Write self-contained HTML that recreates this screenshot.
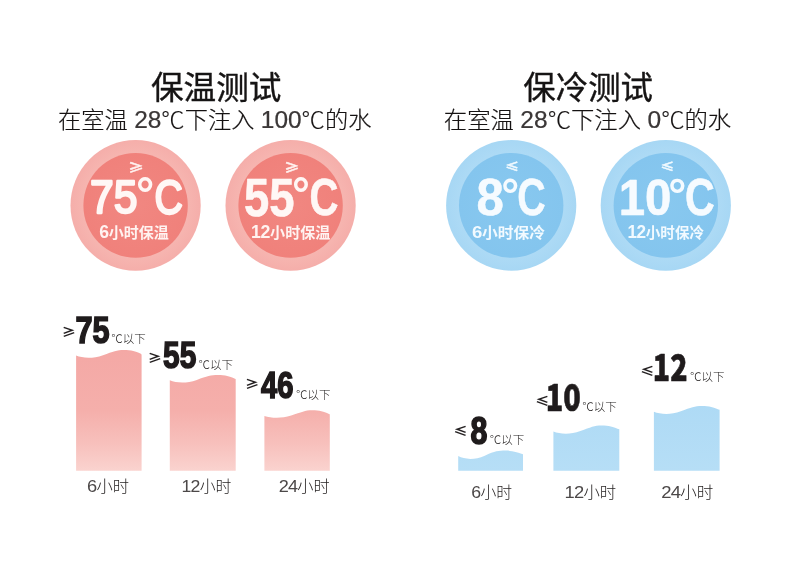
<!DOCTYPE html>
<html lang="zh-CN"><head><meta charset="utf-8"><title>保温测试 保冷测试</title>
<style>html,body{margin:0;padding:0;background:#fff}body{width:790px;height:569px;overflow:hidden}svg{display:block}text{white-space:pre}</style>
</head><body>
<svg width="790" height="569" viewBox="0 0 790 569">
<rect width="790" height="569" fill="#ffffff"/>
<defs>
<linearGradient id="pg" x1="0" y1="350" x2="0" y2="471" gradientUnits="userSpaceOnUse"><stop offset="0" stop-color="#f4a8a5"/><stop offset="0.5" stop-color="#f5afab"/><stop offset="0.76" stop-color="#f7bfbb"/><stop offset="1" stop-color="#fad3cf"/></linearGradient>
<linearGradient id="bg" x1="0" y1="405" x2="0" y2="471" gradientUnits="userSpaceOnUse"><stop offset="0" stop-color="#aedaf5"/><stop offset="1" stop-color="#b6def6"/></linearGradient>
<radialGradient id="pr" cx="0.5" cy="0.5" r="0.5"><stop offset="0.8" stop-color="#f6b5b0"/><stop offset="1" stop-color="#f5aeaa"/></radialGradient>
<radialGradient id="br" cx="0.5" cy="0.5" r="0.5"><stop offset="0.8" stop-color="#addaf5"/><stop offset="1" stop-color="#a7d7f4"/></radialGradient>
<radialGradient id="pc" cx="0.5" cy="0.5" r="0.5"><stop offset="0" stop-color="#f18781"/><stop offset="1" stop-color="#f0817b"/></radialGradient>
<radialGradient id="bc" cx="0.5" cy="0.5" r="0.5"><stop offset="0" stop-color="#88c8ef"/><stop offset="1" stop-color="#84c5ee"/></radialGradient>
</defs>
<ellipse cx="135.6" cy="205.4" rx="65.1" ry="65.3" fill="url(#pr)"/><ellipse cx="135.6" cy="205.4" rx="52.2" ry="52.4" fill="url(#pc)"/>
<ellipse cx="290.6" cy="205.4" rx="65.1" ry="65.3" fill="url(#pr)"/><ellipse cx="290.6" cy="205.4" rx="52.2" ry="52.4" fill="url(#pc)"/>
<ellipse cx="511.2" cy="205.4" rx="65.1" ry="65.3" fill="url(#br)"/><ellipse cx="511.2" cy="205.4" rx="52.2" ry="52.4" fill="url(#bc)"/>
<ellipse cx="665.8" cy="205.4" rx="65.1" ry="65.3" fill="url(#br)"/><ellipse cx="665.8" cy="205.4" rx="52.2" ry="52.4" fill="url(#bc)"/>
<path d="M76.1 355.6 C82.6 358.2 92.5 359.0 103.0 355.2 S116.7 350.0 123.9 350.0 S136.4 351.6 139.3 353.0 S141.6 354.4 141.6 356.4 L141.6 470.7 L76.1 470.7Z" fill="url(#pg)"/>
<path d="M169.8 380.3 C176.4 383.0 186.3 383.8 196.8 379.9 S210.7 375.0 217.9 375.0 S230.4 376.6 233.4 378.0 S235.7 378.6 235.7 380.6 L235.7 470.7 L169.8 470.7Z" fill="url(#pg)"/>
<path d="M264.4 415.9 C270.9 417.9 280.8 418.7 291.2 415.5 S304.9 410.3 312.1 410.3 S324.6 411.9 327.5 413.3 S329.8 413.9 329.8 415.9 L329.8 470.7 L264.4 470.7Z" fill="url(#pg)"/>
<path d="M458.2 456.1 C464.7 459.5 474.4 460.3 484.8 455.7 S498.4 450.6 505.5 450.6 S517.8 452.2 520.7 453.6 S523.0 453.3 523.0 455.3 L523.0 470.7 L458.2 470.7Z" fill="url(#bg)"/>
<path d="M553.4 431.5 C560.0 434.0 569.9 434.8 580.4 431.1 S594.3 425.6 601.5 425.6 S614.0 427.2 617.0 428.6 S619.3 428.4 619.3 430.4 L619.3 470.7 L553.4 470.7Z" fill="url(#bg)"/>
<path d="M653.9 411.7 C660.5 414.3 670.3 415.1 680.8 411.3 S694.6 406.1 701.9 406.1 S714.3 407.7 717.3 409.1 S719.6 408.9 719.6 410.9 L719.6 470.7 L653.9 470.7Z" fill="url(#bg)"/>
<text transform="translate(150.95 98.87) scale(1.0355 1)" font-size="31.49" font-family='"Liberation Sans","Noto Sans CJK SC",sans-serif' font-weight="400" fill="#161414" stroke="#161414" stroke-width="0.38" stroke-linejoin="round">保温测试</text>
<text transform="translate(523.35 98.87) scale(1.0291 1)" font-size="31.49" font-family='"Liberation Sans","Noto Sans CJK SC",sans-serif' font-weight="400" fill="#161414" stroke="#161414" stroke-width="0.38" stroke-linejoin="round">保冷测试</text>
<text transform="translate(57.94 127.81) scale(1.0404 1)" font-size="22.37" font-family='"Liberation Sans","Noto Sans CJK SC",sans-serif' font-weight="300" fill="#151212" stroke="#151212" stroke-width="0.18" stroke-linejoin="round">在室温 <tspan font-size="1.05em" letter-spacing="0" fill="#3c3838">28</tspan>℃下注入 <tspan font-size="1.05em" letter-spacing="0" fill="#3c3838">100</tspan>℃的水</text>
<text transform="translate(443.83 127.81) scale(1.0438 1)" font-size="22.37" font-family='"Liberation Sans","Noto Sans CJK SC",sans-serif' font-weight="300" fill="#151212" stroke="#151212" stroke-width="0.18" stroke-linejoin="round">在室温 <tspan font-size="1.05em" letter-spacing="0" fill="#3c3838">28</tspan>℃下注入 <tspan font-size="1.05em" letter-spacing="0" fill="#3c3838">0</tspan>℃的水</text>
<text transform="translate(90.12 212.91) scale(0.9190 1)" font-size="46.40" font-family='"Liberation Sans",sans-serif' font-weight="400" fill="#fff7f5" stroke="#fff7f5" stroke-width="2.32" stroke-linejoin="round">75</text>
<text transform="translate(135.88 211.39) scale(0.9622 1)" font-size="47.42" font-family='"Liberation Sans",sans-serif' font-weight="700" fill="#fff7f5">°</text>
<text transform="translate(154.62 213.95) scale(0.8135 1)" font-size="48.27" font-family='"Liberation Sans",sans-serif' font-weight="400" fill="#fff7f5" stroke="#fff7f5" stroke-width="2.41" stroke-linejoin="round">C</text>
<text transform="translate(243.94 215.67) scale(0.8608 1)" font-size="52.71" font-family='"Liberation Sans",sans-serif' font-weight="700" fill="#fff7f5" stroke="#fff7f5" stroke-width="0.63" stroke-linejoin="round">55</text>
<text transform="translate(292.11 211.39) scale(0.9424 1)" font-size="47.42" font-family='"Liberation Sans",sans-serif' font-weight="700" fill="#fff7f5">°</text>
<text transform="translate(309.39 215.08) scale(0.7789 1)" font-size="51.55" font-family='"Liberation Sans",sans-serif' font-weight="700" fill="#fff7f5" stroke="#fff7f5" stroke-width="0.62" stroke-linejoin="round">C</text>
<text transform="translate(476.62 214.68) scale(0.9544 1)" font-size="51.55" font-family='"Liberation Sans",sans-serif' font-weight="700" fill="#f6fbff" stroke="#f6fbff" stroke-width="0.52" stroke-linejoin="round">8</text>
<text transform="translate(501.20 211.37) scale(0.9555 1)" font-size="47.10" font-family='"Liberation Sans",sans-serif' font-weight="700" fill="#f6fbff">°</text>
<text transform="translate(517.32 215.29) scale(0.7684 1)" font-size="51.27" font-family='"Liberation Sans",sans-serif' font-weight="700" fill="#f6fbff" stroke="#f6fbff" stroke-width="0.51" stroke-linejoin="round">C</text>
<text transform="translate(618.65 214.50) scale(0.9517 1)" font-size="49.86" font-family='"Liberation Sans",sans-serif' font-weight="700" fill="#f6fbff" stroke="#f6fbff" stroke-width="0.60" stroke-linejoin="round">10</text>
<text transform="translate(668.29 210.77) scale(0.9621 1)" font-size="47.10" font-family='"Liberation Sans",sans-serif' font-weight="700" fill="#f6fbff">°</text>
<text transform="translate(684.95 215.29) scale(0.8017 1)" font-size="51.41" font-family='"Liberation Sans",sans-serif' font-weight="700" fill="#f6fbff" stroke="#f6fbff" stroke-width="0.62" stroke-linejoin="round">C</text>
<text transform="translate(99.20 238.26) scale(1.0071 1)" font-size="14.89" font-family='"Liberation Sans","Noto Sans CJK SC",sans-serif' font-weight="700" fill="#fff3f1"><tspan font-size="1.18em" letter-spacing="-0.02em">6</tspan>小时保温</text>
<text transform="translate(251.05 238.26) scale(1.0117 1)" font-size="14.89" font-family='"Liberation Sans","Noto Sans CJK SC",sans-serif' font-weight="700" fill="#fff3f1"><tspan font-size="1.18em" letter-spacing="-0.02em">12</tspan>小时保温</text>
<text transform="translate(471.97 238.27) scale(1.0685 1)" font-size="14.74" font-family='"Liberation Sans","Noto Sans CJK SC",sans-serif' font-weight="700" fill="#f2faff"><tspan font-size="1.18em" letter-spacing="-0.02em">6</tspan>小时保冷</text>
<text transform="translate(627.38 238.26) scale(0.9779 1)" font-size="14.89" font-family='"Liberation Sans","Noto Sans CJK SC",sans-serif' font-weight="700" fill="#f2faff"><tspan font-size="1.18em" letter-spacing="-0.02em">12</tspan>小时保冷</text>
<text transform="translate(128.36 171.56) scale(1.2013 1)" font-size="12.79" font-family='"Noto Sans CJK SC","Liberation Sans",sans-serif' font-weight="700" fill="#fff3f1" stroke="#fff3f1" stroke-width="0.38" stroke-linejoin="round">≥</text>
<text transform="translate(284.19 171.56) scale(1.1823 1)" font-size="12.79" font-family='"Noto Sans CJK SC","Liberation Sans",sans-serif' font-weight="700" fill="#fff3f1" stroke="#fff3f1" stroke-width="0.38" stroke-linejoin="round">≥</text>
<text transform="translate(505.19 170.74) scale(1.2259 1)" font-size="11.28" font-family='"Noto Sans CJK SC","Liberation Sans",sans-serif' font-weight="700" fill="#f2faff" stroke="#f2faff" stroke-width="0.34" stroke-linejoin="round">≤</text>
<text transform="translate(660.39 170.74) scale(1.2259 1)" font-size="11.28" font-family='"Noto Sans CJK SC","Liberation Sans",sans-serif' font-weight="700" fill="#f2faff" stroke="#f2faff" stroke-width="0.34" stroke-linejoin="round">≤</text>
<text transform="translate(61.71 336.91) scale(1.1526 1)" font-size="12.24" font-family='"Noto Sans CJK SC","Liberation Sans",sans-serif' font-weight="900" fill="#231f20">≥</text>
<text transform="translate(75.49 342.77) scale(0.8153 1)" font-size="37.70" font-family='"Liberation Sans",sans-serif' font-weight="700" fill="#1f1b1c" stroke="#1f1b1c" stroke-width="1.58" stroke-linejoin="miter">75</text>
<text transform="translate(111.21 342.86) scale(0.9850 1)" font-size="11.70" font-family='"Liberation Sans","Noto Sans CJK SC",sans-serif' font-weight="300" fill="#1a1717">℃以下</text>
<text transform="translate(147.81 362.91) scale(1.1526 1)" font-size="12.24" font-family='"Noto Sans CJK SC","Liberation Sans",sans-serif' font-weight="900" fill="#231f20">≥</text>
<text transform="translate(163.10 368.46) scale(0.7904 1)" font-size="37.84" font-family='"Liberation Sans",sans-serif' font-weight="700" fill="#1f1b1c" stroke="#1f1b1c" stroke-width="1.59" stroke-linejoin="miter">55</text>
<text transform="translate(198.41 368.66) scale(0.9850 1)" font-size="11.70" font-family='"Liberation Sans","Noto Sans CJK SC",sans-serif' font-weight="300" fill="#1a1717">℃以下</text>
<text transform="translate(244.91 388.91) scale(1.1526 1)" font-size="12.24" font-family='"Noto Sans CJK SC","Liberation Sans",sans-serif' font-weight="900" fill="#231f20">≥</text>
<text transform="translate(261.09 398.47) scale(0.7763 1)" font-size="37.60" font-family='"Liberation Sans",sans-serif' font-weight="700" fill="#1f1b1c" stroke="#1f1b1c" stroke-width="1.58" stroke-linejoin="miter">46</text>
<text transform="translate(295.91 399.06) scale(0.9850 1)" font-size="11.70" font-family='"Liberation Sans","Noto Sans CJK SC",sans-serif' font-weight="300" fill="#1a1717">℃以下</text>
<text transform="translate(453.59 435.91) scale(1.1526 1)" font-size="12.24" font-family='"Noto Sans CJK SC","Liberation Sans",sans-serif' font-weight="900" fill="#231f20">≤</text>
<text transform="translate(470.60 443.76) scale(0.7992 1)" font-size="38.00" font-family='"Liberation Sans",sans-serif' font-weight="700" fill="#1f1b1c" stroke="#1f1b1c" stroke-width="1.60" stroke-linejoin="miter">8</text>
<text transform="translate(489.71 444.06) scale(0.9850 1)" font-size="11.70" font-family='"Liberation Sans","Noto Sans CJK SC",sans-serif' font-weight="300" fill="#1a1717">℃以下</text>
<text transform="translate(535.19 405.71) scale(1.1526 1)" font-size="12.24" font-family='"Noto Sans CJK SC","Liberation Sans",sans-serif' font-weight="900" fill="#231f20">≤</text>
<text transform="translate(545.68 411.26) scale(0.7847 1)" font-size="36.75" font-family='"Noto Sans CJK SC","Liberation Sans",sans-serif' font-weight="900" fill="#1f1b1c" stroke="#1f1b1c" stroke-width="0.66" stroke-linejoin="round">10</text>
<text transform="translate(582.31 411.26) scale(0.9850 1)" font-size="11.70" font-family='"Liberation Sans","Noto Sans CJK SC",sans-serif' font-weight="300" fill="#1a1717">℃以下</text>
<text transform="translate(640.19 375.71) scale(1.1526 1)" font-size="12.24" font-family='"Noto Sans CJK SC","Liberation Sans",sans-serif' font-weight="900" fill="#231f20">≤</text>
<text transform="translate(652.81 380.83) scale(0.7727 1)" font-size="36.84" font-family='"Noto Sans CJK SC","Liberation Sans",sans-serif' font-weight="900" fill="#1f1b1c" stroke="#1f1b1c" stroke-width="0.66" stroke-linejoin="round">12</text>
<text transform="translate(689.91 380.66) scale(0.9850 1)" font-size="11.70" font-family='"Liberation Sans","Noto Sans CJK SC",sans-serif' font-weight="300" fill="#1a1717">℃以下</text>
<text transform="translate(87.02 491.57) scale(1.0595 1)" font-size="15.40" font-family='"Liberation Sans","Noto Sans CJK SC",sans-serif' font-weight="300" fill="#221e1e"><tspan font-size="1.12em" letter-spacing="-0.04em" fill="#4c4848">6</tspan>小时</text>
<text transform="translate(181.38 491.57) scale(1.0278 1)" font-size="15.40" font-family='"Liberation Sans","Noto Sans CJK SC",sans-serif' font-weight="300" fill="#221e1e"><tspan font-size="1.12em" letter-spacing="-0.04em" fill="#4c4848">12</tspan>小时</text>
<text transform="translate(278.63 491.57) scale(1.0517 1)" font-size="15.40" font-family='"Liberation Sans","Noto Sans CJK SC",sans-serif' font-weight="300" fill="#221e1e"><tspan font-size="1.12em" letter-spacing="-0.04em" fill="#4c4848">24</tspan>小时</text>
<text transform="translate(471.35 497.67) scale(1.0279 1)" font-size="15.40" font-family='"Liberation Sans","Noto Sans CJK SC",sans-serif' font-weight="300" fill="#221e1e"><tspan font-size="1.12em" letter-spacing="-0.04em" fill="#4c4848">6</tspan>小时</text>
<text transform="translate(564.52 497.67) scale(1.0643 1)" font-size="15.40" font-family='"Liberation Sans","Noto Sans CJK SC",sans-serif' font-weight="300" fill="#221e1e"><tspan font-size="1.12em" letter-spacing="-0.04em" fill="#4c4848">12</tspan>小时</text>
<text transform="translate(661.21 497.67) scale(1.0752 1)" font-size="15.40" font-family='"Liberation Sans","Noto Sans CJK SC",sans-serif' font-weight="300" fill="#221e1e"><tspan font-size="1.12em" letter-spacing="-0.04em" fill="#4c4848">24</tspan>小时</text>
</svg>
</body></html>
